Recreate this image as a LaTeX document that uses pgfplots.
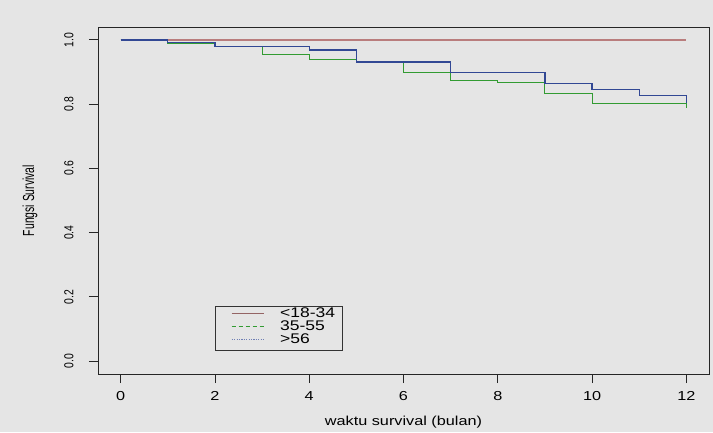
\documentclass[border=0pt]{standalone}
\usepackage{pgfplots}
\pgfplotsset{compat=1.18}
\usepackage{fontspec}
\setmainfont{Liberation Sans}[FakeStretch=1.25]
\newfontfamily\rotfont{Liberation Sans}[FakeStretch=0.8]
\newfontfamily\ylabfont{Liberation Sans}[FakeStretch=0.65]
\definecolor{bg}{RGB}{229,229,229}
\definecolor{cred}{RGB}{185,125,125}
\definecolor{cgreen}{RGB}{50,155,50}
\definecolor{cblue}{RGB}{50,72,148}
\begin{document}
\begin{tikzpicture}
\fill[bg] (0,0) rectangle (713pt,432pt);
\begin{axis}[
  at={(98pt,58pt)}, anchor=south west,
  scale only axis, width=611pt, height=347pt,
  xmin=-0.48, xmax=12.48, ymin=-0.04, ymax=1.04,
  xtick={0,2,4,6,8,10,12},
  ytick={0,0.2,0.4,0.6,0.8,1.0},
  yticklabels={0.0,0.2,0.4,0.6,0.8,1.0},
  /pgf/number format/assume math mode=true,
  axis background/.style={fill=bg},
  axis line style={black!85, line width=0.9pt},
  tick style={black!85, line width=0.8pt},
  tick align=outside, major tick length=9pt,
  xtick pos=bottom, ytick pos=left,
  xticklabel style={font=\fontsize{13}{13}\selectfont},
  xticklabel shift=5pt,
  yticklabel style={font=\rotfont\fontsize{13}{13}\selectfont, rotate=90, anchor=south},
  yticklabel shift=12pt,
  xlabel={waktu survival (bulan)},
  ylabel={Fungsi Survival},
  xlabel style={at={(axis description cs:0.5,-0.1383)}, anchor=center, font=\fontsize{13}{13}\selectfont},
  ylabel style={at={(axis description cs:-0.1113,0.5)}, anchor=center, font=\ylabfont\fontsize{16}{16}\selectfont},
  legend style={at={(axis description cs:0.1915,0.196)}, anchor=north west,
    draw=black!80, fill=bg, inner xsep=7pt, inner ysep=2.5pt, row sep=0pt,
    font=\fontsize{14}{14}\selectfont,
    nodes={inner sep=0pt, text height=9pt, text depth=4pt}},
  legend cell align=left,
  legend image code/.code={\path (0pt,0pt); \draw[#1] (9pt,2pt) -- (41pt,2pt);},
]
\addplot[cred, line width=1.3pt, const plot, forget plot] coordinates {(0,1) (12,1)};
\addplot[cgreen, line width=1.1pt, const plot, forget plot] coordinates {
(0,1) (1,0.990) (2,0.978) (3,0.955) (4,0.939) (5,0.931) (6,0.899) (7,0.873) (8,0.866) (9,0.834) (10,0.803) (12,0.789)};
\addplot[cblue, line width=1.3pt, const plot, forget plot] coordinates {
(0,1) (1,0.992) (2,0.980) (4,0.968) (5,0.931) (7,0.899) (9,0.864) (10,0.846) (11,0.826) (12,0.803)};
\addlegendimage{cred!80!black, line width=0.9pt}
\addlegendentry{\hspace{16pt}<18-34}
\addlegendimage{cgreen, line width=1pt, dash pattern=on 4pt off 3pt}
\addlegendentry{\hspace{16pt}35-55}
\addlegendimage{cblue!70, line width=1pt, dash pattern=on 1.2pt off 1.2pt}
\addlegendentry{\hspace{16pt}>56}
\end{axis}
\end{tikzpicture}
\end{document}
